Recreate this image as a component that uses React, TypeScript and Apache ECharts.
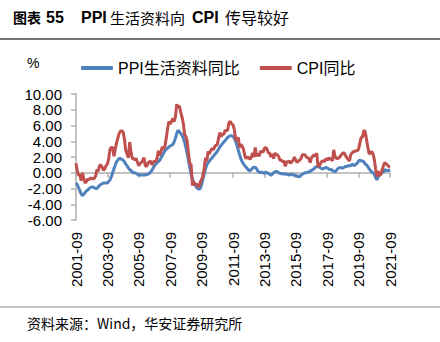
import React, { useEffect, useRef } from "react";
import * as echarts from "echarts";

const startYear = 2001;
const startMonth = 9;
const monthCount = 241;
const tickLabelStep = 24;

const yTickMin = -6;
const yTickMax = 10;
const yTickStep = 2;

const seriesNames = ["PPI生活资料同比", "CPI同比"];

// PPI 生活资料同比 (%), monthly 2001-09 .. 2021-09
const ppiLiving: number[] = [
  -1.3, -1.5, -1.9, -2.3,
  -2.7, -2.9, -2.7, -2.5, -2.3, -2.2, -2.0, -1.9, -1.8, -1.8, -1.9, -2.0,
  -2.0, -1.8, -1.6, -1.5, -1.4, -1.3, -1.3, -1.3, -1.3, -1.1, -0.9, -0.5,
  0.0, 0.5, 1.0, 1.4, 1.6, 1.8, 1.8, 1.7, 1.6, 1.4, 1.1, 0.9,
  0.6, 0.4, 0.3, 0.1, 0.0, 0.0, -0.1, -0.2, -0.3, -0.3, -0.3, -0.3,
  -0.3, -0.3, -0.2, -0.2, -0.1, 0.1, 0.3, 0.6, 0.9, 1.1, 1.3, 1.4,
  1.6, 1.9, 2.2, 2.5, 2.8, 3.0, 3.1, 3.3, 3.4, 3.5, 3.6, 3.9,
  4.4, 5.0, 5.4, 5.2, 5.0, 4.8, 4.4, 3.9, 3.2, 2.4, 1.6, 0.6,
  -0.2, -0.8, -1.2, -1.5, -1.8, -2.0, -2.1, -2.0, -1.5, -0.8, -0.1, 0.5,
  1.0, 1.3, 1.5, 1.7, 1.9, 2.1, 2.3, 2.5, 2.7, 3.0, 3.3, 3.5,
  3.7, 3.9, 4.1, 4.3, 4.5, 4.6, 4.7, 4.7, 4.6, 4.4, 4.0, 3.5,
  2.9, 2.3, 1.8, 1.4, 1.1, 0.9, 0.7, 0.5, 0.3, 0.3, 0.4, 0.6,
  0.7, 0.7, 0.5, 0.2, 0.1, 0.0, 0.1, 0.0, -0.1, 0.1, 0.0, -0.1,
  -0.2, -0.3, -0.2, 0.0, 0.1, 0.2, 0.1, 0.0, -0.1, -0.1, -0.2, -0.1,
  -0.2, -0.2, -0.2, -0.3, -0.2, -0.2, -0.3, -0.3, -0.4, -0.4, -0.5, -0.5,
  -0.3, -0.2, -0.1, 0.0, 0.0, 0.1, 0.1, 0.2, 0.3, 0.4, 0.5, 0.7,
  0.8, 0.8, 0.7, 0.6, 0.5, 0.5, 0.6, 0.7, 0.6, 0.5, 0.4, 0.4,
  0.3, 0.2, 0.1, 0.3, 0.5, 0.6, 0.7, 0.6, 0.6, 0.7, 0.8, 0.8,
  0.9, 0.9, 0.9, 1.1, 1.0, 0.9, 1.1, 1.2, 1.5, 1.6, 1.5, 1.5,
  1.4, 1.1, 1.0, 0.8, 0.5, 0.3, 0.1, 0.0, -0.2, -0.6, -0.9, -0.5,
  -0.3, -0.2, 0.1, 0.1, 0.4, 0.3, 0.3, 0.3, 0.4,
];

// CPI同比 (%), monthly 2001-09 .. 2021-09
const cpi: number[] = [
  1.2, 0.2, -0.3, -0.3,
  -1.0, 0.0, -0.8, -1.3, -1.1, -0.8, -0.9, -0.7, -0.7, -0.8, -0.7, -0.4,
  0.4, 0.2, 0.9, 1.0, 0.7, 0.3, 0.5, 0.9, 1.1, 1.8, 3.0, 3.2,
  3.2, 2.1, 3.0, 3.8, 4.4, 5.0, 5.3, 5.3, 5.2, 4.3, 2.8, 2.4,
  1.9, 3.9, 2.7, 1.8, 1.8, 1.6, 1.8, 1.3, 0.9, 1.2, 1.3, 1.6,
  1.9, 0.9, 0.8, 1.2, 1.4, 1.5, 1.0, 1.3, 1.5, 1.4, 1.9, 2.8,
  2.2, 2.7, 3.3, 3.0, 3.4, 4.4, 5.6, 6.5, 6.2, 6.5, 6.9, 6.5,
  7.1, 8.7, 8.3, 8.5, 7.7, 7.1, 6.3, 4.9, 4.6, 4.0, 2.4, 1.2,
  1.0, -1.6, -1.2, -1.5, -1.4, -1.7, -1.8, -1.2, -0.8, -0.5, 0.6, 1.9,
  1.5, 2.7, 2.4, 2.8, 3.1, 2.9, 3.3, 3.5, 3.6, 4.4, 5.1, 4.6,
  4.9, 4.9, 5.4, 5.3, 5.5, 6.4, 6.5, 6.2, 6.1, 5.5, 4.2, 4.1,
  4.5, 3.2, 3.6, 3.4, 3.0, 2.2, 1.8, 2.0, 1.9, 1.7, 2.0, 2.5,
  2.0, 3.2, 2.1, 2.4, 2.1, 2.7, 2.7, 2.6, 3.1, 3.2, 3.0, 2.5,
  2.5, 2.0, 2.4, 1.8, 2.5, 2.3, 2.3, 2.0, 1.6, 1.6, 1.4, 1.5,
  0.8, 1.4, 1.4, 1.5, 1.2, 1.4, 1.6, 2.0, 1.6, 1.3, 1.5, 1.6,
  1.8, 2.3, 2.3, 2.3, 2.0, 1.9, 1.8, 1.3, 1.9, 2.1, 2.3, 2.1,
  2.5, 0.8, 0.9, 1.2, 1.5, 1.5, 1.4, 1.8, 1.6, 1.9, 1.7, 1.8,
  1.5, 2.9, 2.1, 1.8, 1.8, 1.9, 2.1, 2.3, 2.5, 2.5, 2.2, 1.9,
  1.7, 1.5, 2.3, 2.5, 2.7, 2.7, 2.8, 2.8, 3.0, 3.8, 4.5, 4.5,
  5.4, 5.2, 4.3, 3.3, 2.4, 2.5, 2.7, 2.4, 1.7, 0.5, -0.5, 0.2,
  -0.3, -0.2, 0.4, 0.9, 1.3, 1.1, 1.0, 0.8, 0.7,
];

const months: string[] = [];
for (let i = 0; i < monthCount; i++) {
  const idx = startMonth - 1 + i;
  const y = startYear + Math.floor(idx / 12);
  const m = (idx % 12) + 1;
  months.push(`${y}-${String(m).padStart(2, "0")}`);
}

const LATIN = "'Liberation Sans', Arial, 'Noto Sans CJK SC', sans-serif";
const CJK = "'Noto Sans CJK SC', sans-serif";
const AXIS_GRAY = "#B0B0B0";
const BLUE = "#4F81BD";
const RED = "#C0504D";

export default function App() {
  const ref = useRef<HTMLDivElement>(null);

  useEffect(() => {
    if (!ref.current) return;
    const chart = echarts.init(ref.current, undefined, { renderer: "svg" });
    const titleY = 17;
    const mkText = (text: string, x: number, y: number, size: number, family: string, weight: string) => ({
      type: "text",
      x,
      y,
      style: { text, fontSize: size, fontFamily: family, fontWeight: weight, fill: "#000", verticalAlign: "middle" },
    });
    chart.setOption({
      animation: false,
      backgroundColor: "#fff",
      grid: { left: 76, right: 50, top: 94, bottom: 122, containLabel: false },
      legend: {
        left: 76,
        top: 55,
        itemWidth: 32,
        itemHeight: 4,
        itemGap: 20,
        icon: "roundRect",
        textStyle: { fontSize: 16, fontFamily: LATIN, color: "#000", padding: [0, 0, 0, 0] },
        data: seriesNames,
      },
      xAxis: {
        type: "category",
        data: months,
        boundaryGap: false,
        axisLine: { onZero: true, lineStyle: { color: AXIS_GRAY, width: 1.5 } },
        axisTick: { show: true, interval: tickLabelStep - 1, length: 5, lineStyle: { color: AXIS_GRAY, width: 1.5 } },
        axisLabel: {
          interval: tickLabelStep - 1,
          rotate: 90,
          margin: 12,
          fontSize: 15,
          fontFamily: LATIN,
          color: "#000",
        },
        splitLine: { show: false },
      },
      yAxis: {
        type: "value",
        min: yTickMin,
        max: yTickMax,
        interval: yTickStep,
        axisLine: { show: true, lineStyle: { color: AXIS_GRAY, width: 1.5 } },
        axisTick: { show: true, length: 5, lineStyle: { color: AXIS_GRAY, width: 1.5 } },
        axisLabel: {
          margin: 14,
          fontSize: 15,
          fontFamily: LATIN,
          color: "#000",
          formatter: (v: number) => v.toFixed(2),
        },
        splitLine: { show: false },
      },
      series: [
        {
          name: seriesNames[0],
          type: "line",
          data: ppiLiving,
          symbol: "none",
          color: BLUE,
          itemStyle: { color: BLUE },
          lineStyle: { color: BLUE, width: 3 },
        },
        {
          name: seriesNames[1],
          type: "line",
          data: cpi,
          symbol: "none",
          color: RED,
          itemStyle: { color: RED },
          lineStyle: { color: RED, width: 3 },
        },
      ],
      graphic: [
        mkText("图表", 13, titleY, 14, CJK, "bold"),
        mkText("55", 46, titleY, 16, LATIN, "bold"),
        mkText("PPI", 81, titleY, 16, LATIN, "bold"),
        mkText("生活资料向", 110, titleY, 15, CJK, "normal"),
        mkText("CPI", 192, titleY, 16, LATIN, "bold"),
        mkText("传导较好", 225, titleY, 16, CJK, "normal"),
        {
          type: "line",
          shape: { x1: 0, y1: 39, x2: 440, y2: 39 },
          style: { stroke: "#444", lineWidth: 1.5 },
        },
        mkText("%", 27, 63, 14, LATIN, "normal"),
        {
          type: "line",
          shape: { x1: 0, y1: 307, x2: 440, y2: 307 },
          style: { stroke: "#888", lineWidth: 1.2 },
        },
        mkText("资料来源：Wind，华安证券研究所", 27, 323, 14, CJK, "normal"),
      ],
    });
    return () => chart.dispose();
  }, []);

  return <div ref={ref} style={{ width: 440, height: 342, position: "absolute", left: 0, top: 0 }} />;
}
